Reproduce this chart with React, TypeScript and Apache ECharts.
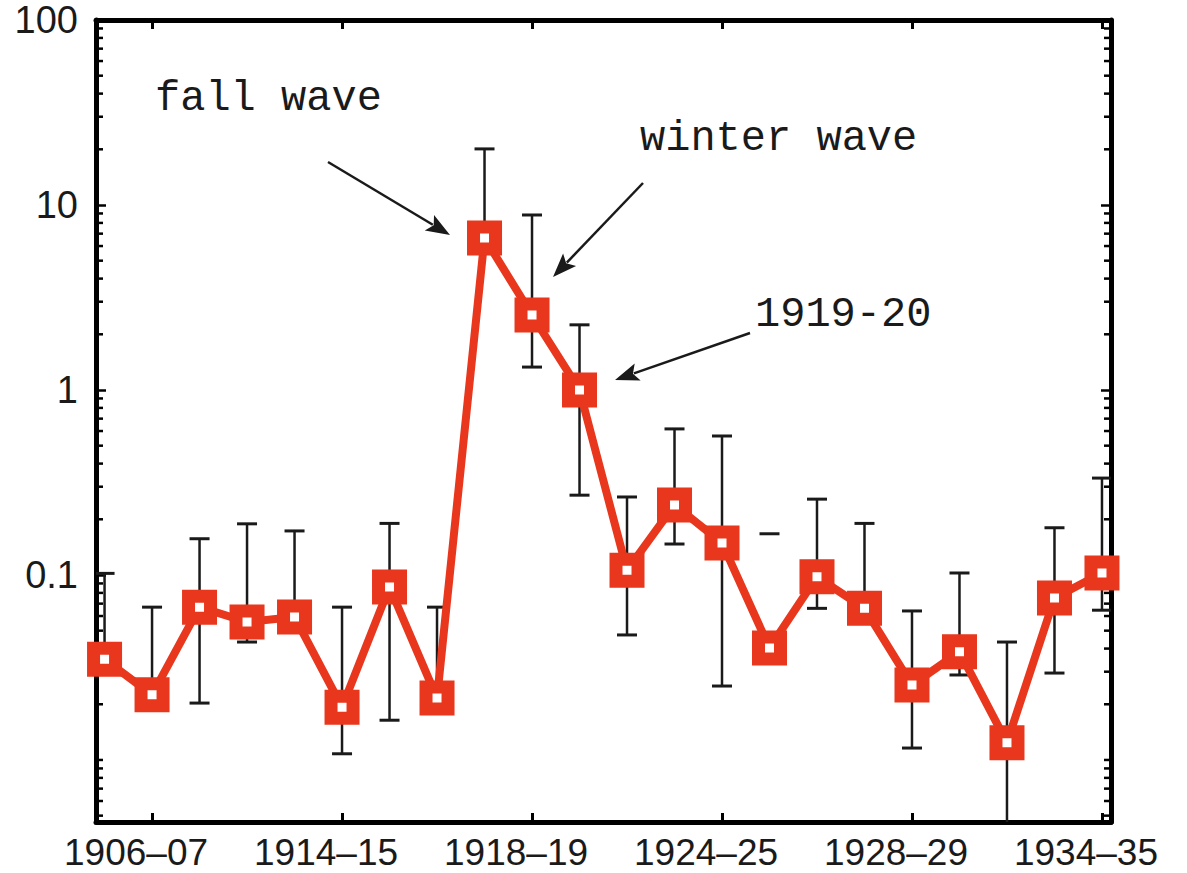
import React, { useEffect, useRef } from "react";
import * as echarts from "echarts";

// Season index positions (0..21) and the labelled ticks
const tickIndex = [1, 5, 9, 13, 17, 21];
const tickLabels = ["1906–07", "1914–15", "1918–19", "1924–25", "1928–29", "1934–35"];

// Values per season (log scale)
const values = [
  0.035, 0.0225, 0.067, 0.0557, 0.0593, 0.0193, 0.0861, 0.0216, 6.63, 2.54, 1.0,
  0.106, 0.239, 0.149, 0.0403, 0.0977, 0.066, 0.0254, 0.0384, 0.0124, 0.0751, 0.1025,
];
// Error bar lower ends (null = no stem drawn, only upper cap)
const errLow = [
  0.035, 0.0225, 0.0203, 0.0434, 0.0593, 0.0108, 0.0164, 0.0216, 6.63, 1.33, 0.27,
  0.0474, 0.147, 0.0251, null, 0.066, 0.066, 0.0116, 0.0288, 0.004, 0.0295, 0.0645,
];
// Error bar upper ends
const errHigh = [
  0.102, 0.067, 0.157, 0.189, 0.173, 0.067, 0.19, 0.067, 20.1, 8.83, 2.25,
  0.264, 0.616, 0.564, 0.167, 0.257, 0.19, 0.0639, 0.1025, 0.0434, 0.18, 0.334,
];

const yTicks = [0.1, 1, 10, 100];
const yLabels = ["0.1", "1", "10", "100"];

const RED = "#e8371d";
const INK = "#1a1a1a";

function arrow(x1: number, y1: number, x2: number, y2: number) {
  const dx = x2 - x1;
  const dy = y2 - y1;
  const len = Math.sqrt(dx * dx + dy * dy);
  const ux = dx / len;
  const uy = dy / len;
  const hl = 24;
  const hw = 9;
  const bx = x2 - ux * hl;
  const by = y2 - uy * hl;
  return [
    {
      type: "line",
      shape: { x1, y1, x2: bx + ux * 4, y2: by + uy * 4 },
      style: { stroke: INK, lineWidth: 2.5 },
      z: 20,
    },
    {
      type: "polygon",
      shape: {
        points: [
          [x2, y2],
          [bx - uy * hw, by + ux * hw],
          [bx + ux * 5, by + uy * 5],
          [bx + uy * hw, by - ux * hw],
        ],
      },
      style: { fill: INK },
      z: 20,
    },
  ];
}

export default function App() {
  const ref = useRef<HTMLDivElement>(null);

  useEffect(() => {
    if (!ref.current) return;
    const chart = echarts.init(ref.current, undefined, { renderer: "svg" });

    const yMin = 0.00462;
    const yMax = 100;
    const xMin = -0.18;
    const xMax = 21.19;

    const lineData = values.map((v, i) => [i, v]);
    const errData = values.map((v, i) => [i, v, errLow[i] == null ? NaN : errLow[i], errHigh[i]]);

    const minorVals: number[] = [];
    for (let k = -3; k <= 1; k++) {
      for (let m = 1; m <= 9; m++) {
        const v = m * Math.pow(10, k);
        if (v > yMin && v < yMax && !(m === 1 && k >= -1)) minorVals.push(v);
      }
    }

    const labelFmt = (v: number) => {
      const i = tickIndex.indexOf(Math.round(v));
      return i >= 0 ? tickLabels[i] : "";
    };

    const yFmt = (v: number) => {
      for (let i = 0; i < yTicks.length; i++) {
        if (Math.abs(Math.log10(v) - Math.log10(yTicks[i])) < 1e-6) return yLabels[i];
      }
      return "";
    };

    const option: any = {
      animation: false,
      backgroundColor: "#ffffff",
      grid: { left: 96, right: 76, top: 20, bottom: 51, containLabel: false, outerBoundsMode: "none" },
      xAxis: [
        {
          type: "value",
          min: xMin,
          max: xMax,
          position: "bottom",
          axisLine: { show: true, onZero: false, lineStyle: { color: "#000", width: 5 } },
          axisTick: { show: true, inside: true, length: 9, customValues: tickIndex, lineStyle: { color: "#000", width: 3 } },
          axisLabel: {
            show: true,
            customValues: tickIndex,
            formatter: labelFmt,
            color: INK,
            fontFamily: "Liberation Sans",
            fontSize: 37,
            lineHeight: 30,
            margin: 15,
            padding: [0, 32, 0, 0],
          },
          splitLine: { show: false },
        },
        {
          type: "value",
          min: xMin,
          max: xMax,
          position: "top",
          axisLine: { show: true, onZero: false, lineStyle: { color: "#000", width: 5 } },
          axisTick: { show: true, inside: true, length: 9, customValues: tickIndex, lineStyle: { color: "#000", width: 3 } },
          axisLabel: { show: false },
          splitLine: { show: false },
        },
      ],
      yAxis: [
        {
          type: "log",
          logBase: 10,
          min: yMin,
          max: yMax,
          position: "left",
          axisLine: { show: true, onZero: false, lineStyle: { color: "#000", width: 5 } },
          axisTick: { show: true, inside: true, length: 10, customValues: yTicks, lineStyle: { color: "#000", width: 2.5 } },
          axisLabel: {
            color: INK,
            fontFamily: "Liberation Sans",
            fontSize: 38,
            margin: 18,
            customValues: yTicks,
            formatter: yFmt,
          },
          splitLine: { show: false },
        },
        {
          type: "log",
          logBase: 10,
          min: yMin,
          max: yMax,
          position: "right",
          axisLine: { show: true, onZero: false, lineStyle: { color: "#000", width: 5 } },
          axisTick: { show: true, inside: true, length: 10, customValues: yTicks, lineStyle: { color: "#000", width: 2.5 } },
          axisLabel: { show: false },
          splitLine: { show: false },
        },
      ],
      series: [
        {
          type: "custom",
          name: "minor ticks",
          data: minorVals.map((v) => [xMin, v]),
          clip: false,
          z: 1,
          renderItem: (params: any, api: any) => {
            const v = api.value(1);
            const l = api.coord([xMin, v]);
            const r = api.coord([xMax, v]);
            return {
              type: "group",
              children: [
                { type: "line", shape: { x1: l[0], y1: l[1], x2: l[0] + 7, y2: l[1] }, style: { stroke: "#000", lineWidth: 2.5 } },
                { type: "line", shape: { x1: r[0], y1: r[1], x2: r[0] - 7, y2: r[1] }, style: { stroke: "#000", lineWidth: 2.5 } },
              ],
            };
          },
        },
        {
          type: "custom",
          name: "error",
          data: errData,
          clip: true,
          z: 2,
          renderItem: (params: any, api: any) => {
            const x = api.value(0);
            const lo = api.value(2);
            const hi = api.value(3);
            const pHi = api.coord([x, hi]);
            const cap = 10;
            const children: any[] = [
              { type: "line", shape: { x1: pHi[0] - cap, y1: pHi[1], x2: pHi[0] + cap, y2: pHi[1] }, style: { stroke: INK, lineWidth: 3 } },
            ];
            if (!isNaN(lo)) {
              const pLo = api.coord([x, lo]);
              children.push(
                { type: "line", shape: { x1: pHi[0], y1: pHi[1], x2: pLo[0], y2: pLo[1] }, style: { stroke: INK, lineWidth: 2.5 } },
                { type: "line", shape: { x1: pLo[0] - cap, y1: pLo[1], x2: pLo[0] + cap, y2: pLo[1] }, style: { stroke: INK, lineWidth: 3 } }
              );
            }
            return { type: "group", children };
          },
        },
        {
          type: "line",
          name: "rate",
          data: lineData,
          z: 5,
          symbol: "rect",
          symbolSize: 22,
          showAllSymbol: true,
          lineStyle: { color: RED, width: 8 },
          itemStyle: { color: "#ffffff", borderColor: RED, borderWidth: 13 },
        },
      ],
      graphic: [
        {
          type: "text",
          x: 155,
          y: 99,
          style: { text: "fall wave", font: "42px 'Liberation Mono'", fill: INK, align: "left", verticalAlign: "middle" },
          z: 20,
        },
        {
          type: "text",
          x: 640,
          y: 139,
          style: { text: "winter wave", font: "42px 'Liberation Mono'", fill: INK, align: "left", verticalAlign: "middle" },
          z: 20,
        },
        {
          type: "text",
          x: 755,
          y: 315,
          style: { text: "1919-20", font: "42px 'Liberation Mono'", fill: INK, align: "left", verticalAlign: "middle" },
          z: 20,
        },
        ...arrow(328, 162, 450, 235),
        ...arrow(643, 183, 553, 277),
        ...arrow(750, 333, 615, 380),
      ],
    };

    chart.setOption(option);
    return () => chart.dispose();
  }, []);

  return (
    <div
      ref={ref}
      style={{ position: "fixed", left: 0, top: 0, width: 1187, height: 873, background: "#fff" }}
    />
  );
}
